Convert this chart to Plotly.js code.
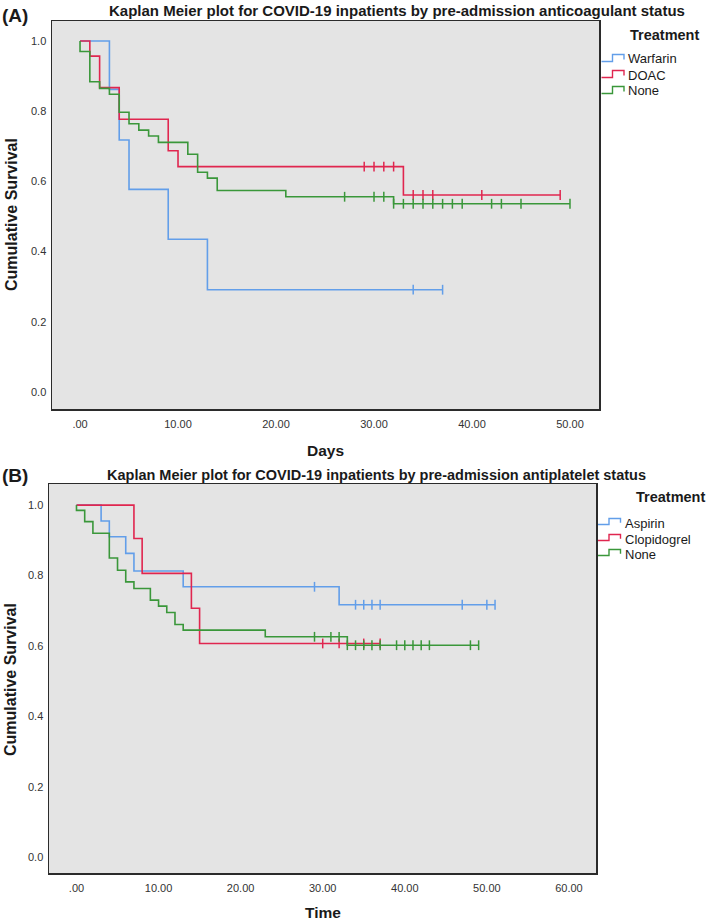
<!DOCTYPE html>
<html>
<head>
<meta charset="utf-8">
<script src="https://cdn.plot.ly/plotly-3.0.1.min.js"></script>
<style>
  html, body { margin: 0; padding: 0; background: #ffffff; }
  #chart { width: 709px; height: 924px; }
</style>
</head>
<body>
<div id="chart"></div>
<script>
// ---- panel A : anticoagulant status ----
const warfarinTimes = [3, 4, 5, 9, 13];
const warfarinSurv  = [0.862, 0.718, 0.577, 0.435, 0.291];
const warfarinCens  = [34, 37];

const doacTimes = [1, 2, 4, 9, 10, 33];
const doacSurv  = [0.957, 0.867, 0.777, 0.687, 0.642, 0.561];
const doacCens  = [29, 30, 31, 32, 34, 35, 36, 41, 49];

const noneATimes = [0, 1, 2, 3, 4, 5, 6, 7, 8, 11, 12, 13, 14, 21, 32];
const noneASurv  = [0.970, 0.884, 0.865, 0.848, 0.797, 0.764, 0.746, 0.729, 0.711, 0.677, 0.626, 0.609, 0.574, 0.556, 0.536];
const noneACens  = [27, 30, 31, 32, 33, 34, 35, 36, 37, 38, 39, 42, 43, 45, 50];

// ---- panel B : antiplatelet status ----
const aspirinTimes = [3, 4, 6, 7, 13, 32];
const aspirinSurv  = [0.955, 0.910, 0.863, 0.813, 0.768, 0.717];
const aspirinCens  = [29, 34, 35, 36, 37, 47, 50, 51];

const clopTimes = [7, 8, 14, 15];
const clopSurv  = [0.905, 0.806, 0.707, 0.607];
const clopCens  = [30, 32, 35, 37];

const noneBTimes = [0, 1, 2, 4, 5, 6, 7, 9, 10, 11, 12, 13, 23, 33];
const noneBSurv  = [0.985, 0.953, 0.920, 0.850, 0.815, 0.782, 0.763, 0.730, 0.713, 0.695, 0.661, 0.645, 0.626, 0.602];
const noneBCens  = [29, 31, 32, 33, 34, 35, 36, 37, 39, 40, 41, 42, 43, 48, 49];

// ---- ticks and labels ----
const xTicksA = [0, 10, 20, 30, 40, 50];
const xTextA  = ['.00', '10.00', '20.00', '30.00', '40.00', '50.00'];
const xTicksB = [0, 10, 20, 30, 40, 50, 60];
const xTextB  = ['.00', '10.00', '20.00', '30.00', '40.00', '50.00', '60.00'];
const yTicks  = [0, 0.2, 0.4, 0.6, 0.8, 1.0];
const yText   = ['0.0', '0.2', '0.4', '0.6', '0.8', '1.0'];

const namesA = ['Warfarin', 'DOAC', 'None'];
const namesB = ['Aspirin', 'Clopidogrel', 'None'];

const BLUE  = '#629ee9';
const RED   = '#e0264f';
const GREEN = '#3a973a';
const FONT  = 'Liberation Sans, Arial, sans-serif';

function survAt(times, surv, t){
    let s = 1;
    for(let i=0; i<times.length; i++){
        if(times[i] <= t) s = surv[i];
    }
    return s;
}

function curve(name, times, surv, cens, color, xa, ya){
    const last = cens.length ? cens[cens.length-1] : times[times.length-1];
    const step = {
        x: [0, ...times, last],
        y: [1, ...surv, surv[surv.length-1]],
        xaxis: xa, yaxis: ya,
        type: 'scatter', mode: 'lines',
        line: {shape: 'hv', color: color, width: 1.6},
        name: name, showlegend: false, hoverinfo: 'skip'
    };
    const marks = {
        x: cens,
        y: cens.map(t => survAt(times, surv, t)),
        xaxis: xa, yaxis: ya,
        type: 'scatter', mode: 'markers',
        marker: {symbol: 'line-ns-open', size: 7, color: color, line: {width: 1.5, color: color}},
        showlegend: false, hoverinfo: 'skip'
    };
    return [step, marks];
}

const data = [
    ...curve(namesA[0], warfarinTimes, warfarinSurv, warfarinCens, BLUE, 'x', 'y'),
    ...curve(namesA[1], doacTimes, doacSurv, doacCens, RED, 'x', 'y'),
    ...curve(namesA[2], noneATimes, noneASurv, noneACens, GREEN, 'x', 'y'),
    ...curve(namesB[0], aspirinTimes, aspirinSurv, aspirinCens, BLUE, 'x2', 'y2'),
    ...curve(namesB[1], clopTimes, clopSurv, clopCens, RED, 'x2', 'y2'),
    ...curve(namesB[2], noneBTimes, noneBSurv, noneBCens, GREEN, 'x2', 'y2')
];

// page pixel -> paper coords (plot area is 49..599 x 21..873)
const L = 49, R = 599, T = 21, B = 873;
const px = x => (x - L) / (R - L);
const py = y => (B - y) / (B - T);

function txt(text, x, y, size, bold, xanchor, angle){
    return {
        text: bold ? '<b>' + text + '</b>' : text,
        xref: 'paper', yref: 'paper',
        x: px(x), y: py(y),
        xanchor: xanchor || 'center', yanchor: 'middle',
        showarrow: false, textangle: angle || 0,
        font: {family: FONT, size: size, color: '#1a1a1a'}
    };
}

function icon(x0, yLow, yHigh, color){
    // little step glyph used by the legend
    const xm = x0 + 11, x1 = x0 + 22.5;
    const yEnd = yHigh + (yLow - yHigh) * 0.72;
    return {
        type: 'path', xref: 'paper', yref: 'paper',
        path: 'M ' + px(x0) + ' ' + py(yLow) + ' L ' + px(xm) + ' ' + py(yLow) +
              ' L ' + px(xm) + ' ' + py(yHigh) + ' L ' + px(x1) + ' ' + py(yHigh) +
              ' L ' + px(x1) + ' ' + py(yEnd),
        line: {color: color, width: 1.4}
    };
}

const legendYA = [59, 75, 91];
const legendYB = [523, 539, 554];
const colors = [BLUE, RED, GREEN];

const annotations = [
    txt('(A)', 0, 15, 19, true, 'left'),
    txt('Kaplan Meier plot for COVID-19 inpatients by pre-admission anticoagulant status', 397, 11, 15, true),
    txt('Treatment', 664, 35, 14.5, true),
    txt('Cumulative Survival', 12, 215, 16, true, 'center', -90),
    txt('Days', 325, 450, 15.5, true),
    txt('(B)', 0, 475, 19, true, 'left'),
    txt('Kaplan Meier plot for COVID-19 inpatients by pre-admission antiplatelet status', 376, 475, 14.5, true),
    txt('Treatment', 670, 497, 14.5, true),
    txt('Cumulative Survival', 10, 680, 16, true, 'center', -90),
    txt('Time', 323, 912, 15.5, true)
];
const shapes = [];

namesA.forEach((n, i) => {
    annotations.push(txt(n, 626, legendYA[i], 13, false, 'left'));
    shapes.push(icon(601.5, legendYA[i] + 2.5, legendYA[i] - 4.5, colors[i]));
});
namesB.forEach((n, i) => {
    annotations.push(txt(n, 623, legendYB[i], 13, false, 'left'));
    shapes.push(icon(598, legendYB[i] + 1.5, legendYB[i] - 4.5, colors[i]));
});

const axisX = {
    showline: true, mirror: true, linecolor: '#2b2b2b', linewidth: 1.5,
    showgrid: false, zeroline: false,
    ticks: 'outside', ticklen: 4, tickcolor: 'rgba(0,0,0,0)',
    tickfont: {family: FONT, size: 11, color: '#333'}
};
const axisY = {
    showline: true, mirror: true, linecolor: '#2b2b2b', linewidth: 1.5,
    showgrid: false, zeroline: false,
    ticks: 'outside', ticklen: 2, tickcolor: 'rgba(0,0,0,0)',
    tickvals: yTicks, ticktext: yText,
    tickfont: {family: FONT, size: 11, color: '#333'}
};

const layout = {
    width: 709, height: 924,
    margin: {l: L, r: 709 - R, t: T, b: 924 - B},
    paper_bgcolor: '#ffffff',
    plot_bgcolor: '#e4e4e4',
    showlegend: false,
    xaxis:  {...axisX, domain: [px(52), 1], range: [-2.86, 52.96], tickvals: xTicksA, ticktext: xTextA, anchor: 'y'},
    yaxis:  {...axisY, domain: [py(409), 1], range: [-0.049, 1.057], anchor: 'x'},
    xaxis2: {...axisX, domain: [0, px(596)], range: [-3.35, 63.3], tickvals: xTicksB, ticktext: xTextB, anchor: 'y2'},
    yaxis2: {...axisY, domain: [0, py(484)], range: [-0.045, 1.06], anchor: 'x2'},
    annotations: annotations,
    shapes: shapes
};

Plotly.newPlot('chart', data, layout, {staticPlot: true});
</script>
</body>
</html>
